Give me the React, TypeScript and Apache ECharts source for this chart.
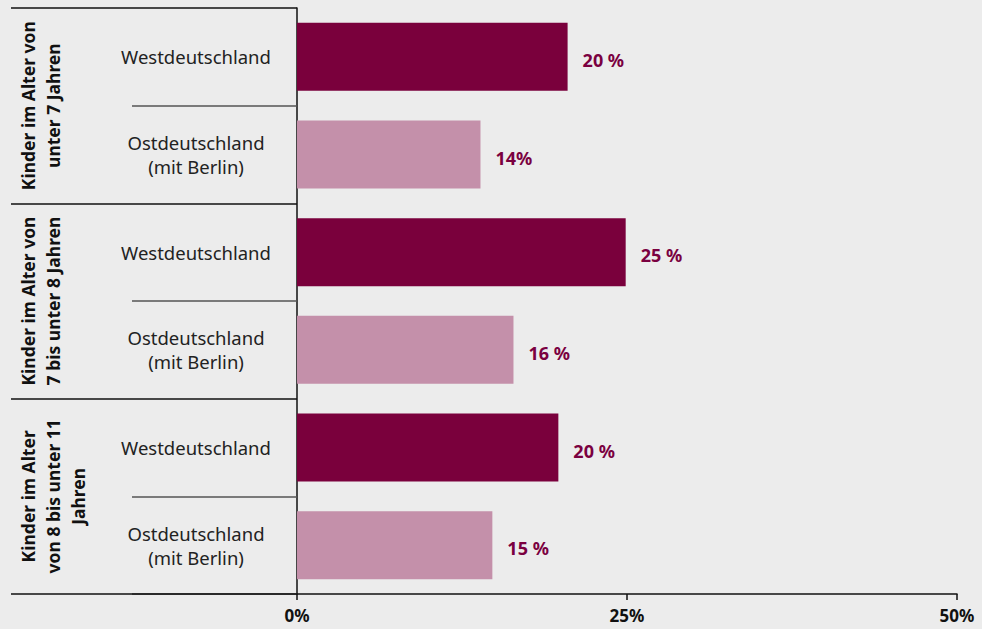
import React, { useEffect, useRef } from "react";
import * as echarts from "echarts";

const groups = [
  "Kinder im Alter von\nunter 7 Jahren",
  "Kinder im Alter von\n7 bis unter 8 Jahren",
  "Kinder im Alter\nvon 8 bis unter 11\nJahren",
];
const regions = [
  "Westdeutschland",
  "Ostdeutschland\n(mit Berlin)",
  "Westdeutschland",
  "Ostdeutschland\n(mit Berlin)",
  "Westdeutschland",
  "Ostdeutschland\n(mit Berlin)",
];
const values = [20.5, 13.9, 24.9, 16.4, 19.8, 14.8];
const valueLabels = ["20 %", "14%", "25 %", "16 %", "20 %", "15 %"];
const xTicks = [0, 25, 50];

const WEST = "#7a003c";
const OST = "#c490aa";
const FONT = "'Noto Sans', sans-serif";

export default function App() {
  const ref = useRef<HTMLDivElement>(null);
  useEffect(() => {
    if (!ref.current) return;
    const chart = echarts.init(ref.current, undefined, { renderer: "svg" });
    chart.setOption({
      animation: false,
      backgroundColor: "#ececec",
      textStyle: { fontFamily: FONT },
      grid: { left: 297, right: 25, top: 8, bottom: 35, containLabel: false },
      xAxis: {
        type: "value",
        min: xTicks[0],
        max: xTicks[xTicks.length - 1],
        interval: 25,
        splitLine: { show: false },
        axisLine: { show: true, lineStyle: { color: "#111", width: 1.5 } },
        axisTick: { show: true, length: 6, lineStyle: { color: "#111", width: 1.5 } },
        axisLabel: {
          formatter: "{value}%",
          fontFamily: FONT,
          fontWeight: "bold",
          fontSize: 17,
          color: "#111",
          margin: 13,
        },
      },
      yAxis: [
        {
          type: "category",
          data: regions,
          inverse: true,
          position: "left",
          axisLine: { show: true, lineStyle: { color: "#111", width: 1.5 } },
          axisTick: {
            show: true,
            length: 165,
            interval: (index: number) => index % 2 === 1,
            lineStyle: { color: "#555", width: 1.5 },
          },
          axisLabel: {
            interval: 0,
            margin: 101,
            align: "center",
            verticalAlign: "middle",
            fontFamily: FONT,
            fontSize: 18.5,
            lineHeight: 24,
            color: "#222",
          },
        },
        {
          type: "category",
          data: groups,
          inverse: true,
          position: "left",
          axisLine: { show: false },
          axisTick: {
            show: true,
            length: 286,
            interval: 0,
            lineStyle: { color: "#111", width: 1.5 },
          },
          axisLabel: {
            interval: 0,
            hideOverlap: false,
            rotate: 90,
            margin: 282,
            align: "center",
            verticalAlign: "top",
            fontFamily: FONT,
            fontWeight: "bold",
            fontSize: 17.5,
            lineHeight: 25,
            color: "#111",
          },
        },
      ],
      series: [
        {
          type: "bar",
          yAxisIndex: 0,
          barWidth: 68,
          data: values.map((v, i) => ({
            value: v,
            itemStyle: { color: i % 2 === 0 ? WEST : OST },
          })),
          label: {
            show: true,
            position: "right",
            distance: 15,
            offset: [0, 3],
            formatter: (p: any) => valueLabels[p.dataIndex],
            fontFamily: FONT,
            fontWeight: "bold",
            fontSize: 18,
            color: "#7a0040",
          },
        },
      ],
    });
    return () => chart.dispose();
  }, []);
  return (
    <div
      ref={ref}
      style={{ position: "fixed", left: 0, top: 0, width: 982, height: 629 }}
    />
  );
}
